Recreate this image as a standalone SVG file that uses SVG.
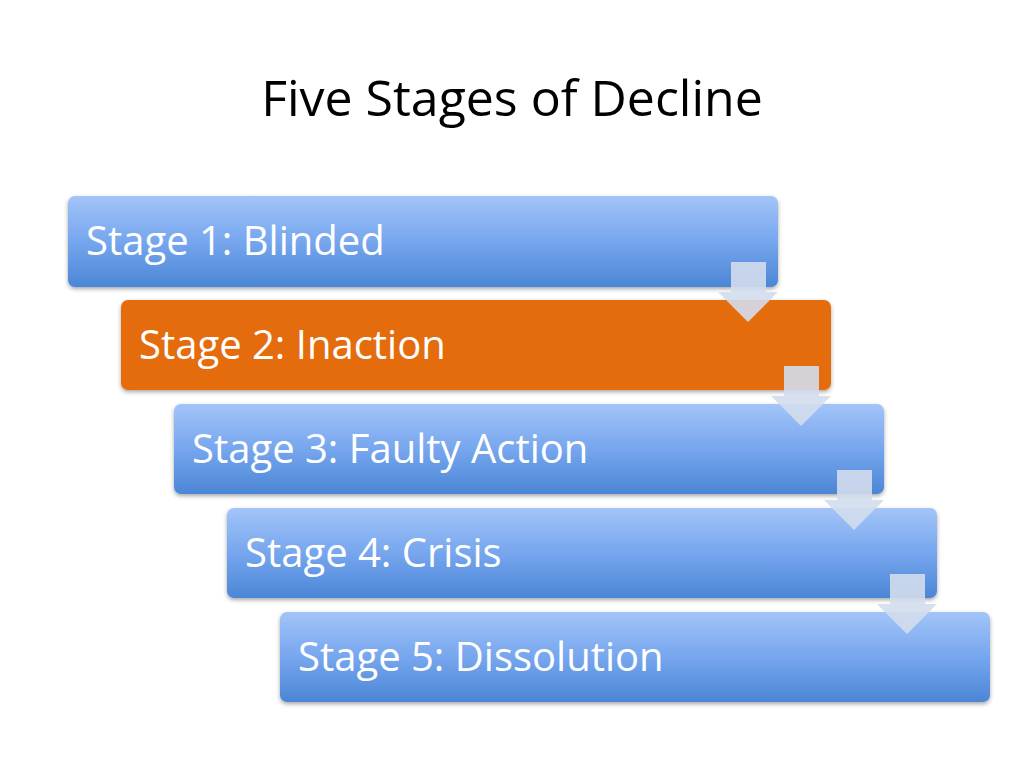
<svg xmlns="http://www.w3.org/2000/svg" width="1024" height="768" viewBox="0 0 1024 768">
<defs>
<linearGradient id="bg" x1="0" y1="0" x2="0" y2="1">
<stop offset="0" stop-color="#a3c4f8"/><stop offset="0.5" stop-color="#76a6ee"/><stop offset="1" stop-color="#4b86d6"/>
</linearGradient>
<filter id="sh" x="-5%" y="-10%" width="110%" height="130%"><feDropShadow dx="0" dy="2" stdDeviation="2" flood-opacity="0.35"/></filter>
</defs>
<style>
.box{fill:url(#bg);filter:url(#sh)}
.or{fill:#e46c0a;filter:url(#sh)}
.t{font-family:"Open Sans","Liberation Sans",sans-serif;font-size:40px;fill:#fff}
.ttl{font-family:"Open Sans","Liberation Sans",sans-serif;font-size:50px;fill:#000}
.ar{fill:#d3ddec;fill-opacity:0.9}
</style>
<rect width="1024" height="768" fill="#fff"/>
<text class="ttl" x="512" y="116" text-anchor="middle">Five Stages of Decline</text>
<g id="n1"><rect class="box" x="68" y="196" width="710" height="91" rx="7"/><text class="t" x="86" y="255">Stage 1: Blinded</text></g>
<g id="n2"><rect class="or" x="121" y="300" width="710" height="90" rx="7"/><text class="t" x="139" y="359">Stage 2: Inaction</text></g>
<g id="n3"><rect class="box" x="174" y="404" width="710" height="90" rx="7"/><text class="t" x="192" y="463">Stage 3: Faulty Action</text></g>
<g id="n4"><rect class="box" x="227" y="508" width="710" height="90" rx="7"/><text class="t" x="245" y="567">Stage 4: Crisis</text></g>
<g id="n5"><rect class="box" x="280" y="612" width="710" height="90" rx="7"/><text class="t" x="298" y="671">Stage 5: Dissolution</text></g>
<g id="connectors">
<path class="ar" d="M731 262h35v30h12l-30 30l-30-30h13z"/>
<path class="ar" d="M784 366h35v30h12l-30 30l-30-30h13z"/>
<path class="ar" d="M837 470h35v30h12l-30 30l-30-30h13z"/>
<path class="ar" d="M890 574h35v30h12l-30 30l-30-30h13z"/>
</g>
</svg>
